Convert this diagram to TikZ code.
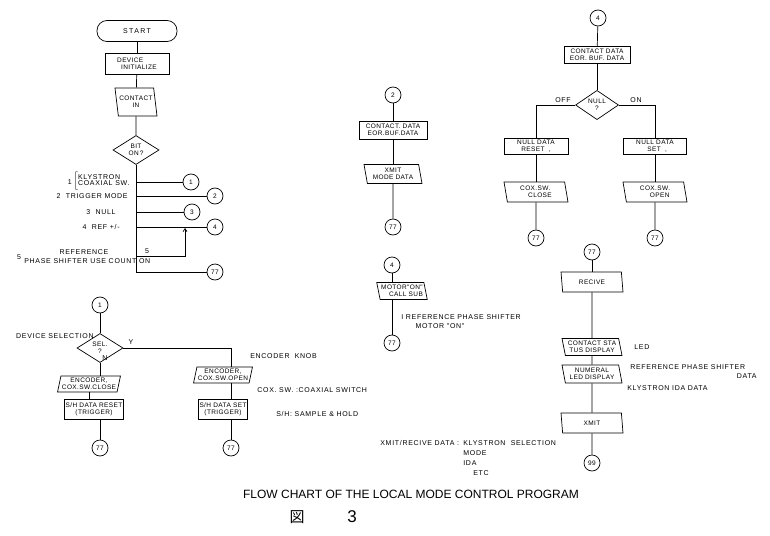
\documentclass[tikz,border=0pt]{standalone}
\usepackage{fontspec}
\setmainfont{Liberation Sans}
\newfontfamily\cjk{Noto Sans CJK JP}
\newfontfamily\lbfam{Liberation Sans}[LetterSpace=10]
\newfontfamily\bxfam{Liberation Sans}[LetterSpace=6]
\usetikzlibrary{arrows.meta,shapes.geometric}
\newcommand{\bxfont}{\bxfam\fontsize{6.5}{7}\selectfont}
\newcommand{\lbfont}{\lbfam\fontsize{7}{8}\selectfont}
\tikzset{
  fbox/.style={draw,rectangle,align=center,inner sep=1pt,font=\bxfont},
  fio/.style={draw,trapezium,trapezium left angle=104,trapezium right angle=76,
    trapezium stretches body,align=center,inner sep=1pt,font=\bxfont},
  fior/.style={fio,trapezium left angle=76,trapezium right angle=104},
  fdec/.style={draw,diamond,inner sep=0pt,align=center,font=\bxfont},
  fconn/.style={draw,circle,minimum size=16pt,inner sep=0pt,font=\bxfont},
  fterm/.style={draw,rounded corners=10pt,minimum width=80pt,minimum height=21pt,
    font=\lbfam\fontsize{7}{8}\selectfont},
  flabel/.style={inner sep=0pt,font=\lbfont},
  fflow/.style={line width=0.7pt},
  farrow/.style={fflow,-{Straight Barb[length=3pt,width=4pt]}},
}

\begin{document}
\begin{tikzpicture}[x=1pt,y=-1pt,fflow]
\useasboundingbox (0,0) rectangle (770,535);
% main program
\node[fterm] (start) at (137,31) {S\,T\,A\,R\,T};
\node[fbox,minimum width=64pt,minimum height=21pt,align=left] (init) at (137,64)
  {DEVICE\\\hspace{4pt}INITIALIZE};
\node[fio,minimum width=32pt,minimum height=28pt] (cin) at (136,102) {CONTACT\\IN};
\node[fdec,minimum width=46pt,minimum height=29pt] (bit) at (136,150) {BIT\\ON\,?};
\draw (start) -- (init);
\draw (init) -- (cin);
\draw (cin) -- (bit);
% branch trunk
\coordinate (r1) at (136,182);
\coordinate (r2) at (136,196);
\coordinate (r3) at (136,212);
\coordinate (r4) at (136,227);
\coordinate (r5) at (136,256);
\coordinate (r77) at (136,272);
\coordinate (j5) at (185,256);
\coordinate (j4) at (185,228);
\node[fconn] (c1) at (191,182) {1};
\node[fconn] (c2) at (215,196) {2};
\node[fconn] (c3) at (192,212) {3};
\node[fconn] (c4) at (215,227) {4};
\node[fconn] (c77a) at (215,272) {77};
\draw (bit.south) -- (r77);
\draw (r1) -- (c1);
\draw (r2) -- (c2);
\draw (r3) -- (c3);
\draw (r4) -- (c4);
\draw (r77) -- (c77a);
\draw[farrow] (r5) -- (j5) -- (j4);
\node[flabel,anchor=south] at (147,254) {5};
% branch texts
\node[flabel,anchor=east] at (72,182) {1};
\node[flabel,anchor=west] at (73,181)
  {$\left[\renewcommand{\arraystretch}{0.75}\begin{tabular}{@{}l@{}}KLYSTRON\\COAXIAL SW.\end{tabular}\right.$};
\node[flabel,anchor=east] at (128,196) {2\ \ TRIGGER MODE};
\node[flabel,anchor=east] at (116,212) {3\ \ NULL};
\node[flabel,anchor=east] at (120,227) {4\ \ REF +/-};
\node[flabel] at (84,252) {REFERENCE};
\node[flabel] at (19,257) {5};
\node[flabel,anchor=west] at (24,261) {PHASE SHIFTER USE COUNT ON};
% sub flow 1
\node[fconn] (c1s) at (100,305) {1};
\node[fdec,minimum width=46pt,minimum height=29pt] (sel) at (100,348) {SEL.\\?};
\node[fior,minimum width=52pt,minimum height=16pt] (encc) at (89,384)
  {ENCODER,\\COX.SW.CLOSE};
\node[fbox,minimum width=52pt,minimum height=20pt] (shr) at (94,409)
  {S/H DATA RESET\\(TRIGGER)};
\node[fconn] (c77g) at (100,448) {77};
\coordinate (ycol) at (231,348);
\node[fior,minimum width=46pt,minimum height=16pt] (enco) at (223,375)
  {ENCODER,\\COX.SW.OPEN};
\node[fbox,minimum width=48pt,minimum height=20pt] (shs) at (223,409)
  {S/H DATA SET\\(TRIGGER)};
\node[fconn] (c77h) at (231,448) {77};
\draw (c1s) -- (sel);
\draw (sel.south) -- (sel.south |- encc.north);
\draw (encc.south) -- (shr.north -| encc.south);
\draw (c77g |- shr.south) -- (c77g);
\draw (sel.east) -- (ycol) -- (ycol |- enco.north);
\draw (ycol |- enco.south) -- (ycol |- shs.north);
\draw (ycol |- shs.south) -- (c77h);
\node[flabel,anchor=east] at (94,336) {DEVICE SELECTION};
\node[flabel] at (131,342) {Y};
\node[flabel] at (105,358) {N};
\node[flabel,anchor=west] at (250,356) {ENCODER\ \ KNOB};
\node[flabel,anchor=west] at (257,390) {COX. SW. :COAXIAL SWITCH};
\node[flabel,anchor=west] at (276,414) {S/H: SAMPLE \& HOLD};
% sub flow 2
\node[fconn] (c2s) at (393,95) {2};
\node[fbox,minimum width=68pt,minimum height=18pt] (cdat2) at (393,130)
  {CONTACT. DATA\\EOR.BUF.DATA};
\node[fio,minimum width=58pt,minimum height=19pt] (xmit2) at (393,174)
  {XMIT\\MODE DATA};
\node[fconn] (c77b) at (393,227) {77};
\draw (c2s) -- (cdat2);
\draw (cdat2) -- (xmit2);
\draw (xmit2) -- (c77b);
% sub flow 4 (motor)
\node[fconn] (c4s) at (392,265) {4};
\node[fio,minimum width=46pt,minimum height=17pt] (motor) at (402,291)
  {MOTOR"ON"\\\hspace{8pt}CALL SUB};
\node[fconn] (c77c) at (392,343) {77};
\draw (c4s) -- (c4s |- motor.north);
\draw (c4s |- motor.south) -- (c77c);
\node[flabel,anchor=west] at (401,317) {I REFERENCE PHASE SHIFTER};
\node[flabel] at (440,326) {MOTOR "ON"};
% sub flow 4 (null)
\node[fconn] (c4r) at (598,18) {4};
\node[fbox,minimum width=66pt,minimum height=17pt] (cdat4) at (597,55)
  {CONTACT DATA\\EOR. BUF. DATA};
\node[fdec,minimum width=43pt,minimum height=29pt] (null) at (597,105) {NULL\\?};
\node[fbox,minimum width=64pt,minimum height=16pt] (nrst) at (536,146)
  {NULL DATA\\RESET\ \ ,};
\node[fbox,minimum width=63pt,minimum height=16pt] (nset) at (655,146)
  {NULL DATA\\\ \ SET\ \ ,};
\node[fio,minimum width=64pt,minimum height=20pt,align=left] (close) at (536,192)
  {COX.SW.\\\hspace{8pt}CLOSE};
\node[fio,minimum width=64pt,minimum height=20pt,align=left] (open) at (655,192)
  {COX.SW.\\\hspace{10pt}OPEN};
\node[fconn] (c77d) at (536,238) {77};
\node[fconn] (c77e) at (655,238) {77};
\draw (c4r) -- (cdat4);
\draw (cdat4) -- (null);
\draw (null.west) -| (nrst.north);
\draw (null.east) -| (nset.north);
\draw (nrst) -- (close);
\draw (close) -- (c77d);
\draw (nset) -- (open);
\draw (open) -- (c77e);
\node[flabel] at (563,100) {OFF};
\node[flabel] at (636,100) {ON};
% sub flow 77
\node[fconn] (c77f) at (592,252) {77};
\node[fio,minimum width=62pt,minimum height=20pt] (recv) at (592,282) {RECIVE};
\node[fio,minimum width=60pt,minimum height=17pt] (stat) at (592,347)
  {CONTACT STA\\TUS DISPLAY};
\node[fio,minimum width=60pt,minimum height=18pt] (numl) at (592,374)
  {NUMERAL\\LED DISPLAY};
\node[fio,minimum width=62pt,minimum height=20pt] (xmit) at (592,423) {XMIT};
\node[fconn] (c99) at (592,463) {99};
\draw (c77f) -- (recv);
\draw (recv) -- (stat);
\draw (stat) -- (numl);
\draw (numl) -- (xmit);
\draw (xmit) -- (c99);
\node[flabel,anchor=west] at (634,347) {LED};
\node[flabel,anchor=west] at (630,367) {REFERENCE PHASE SHIFTER};
\node[flabel,anchor=east] at (757,376) {DATA};
\node[flabel,anchor=west] at (627,388) {KLYSTRON IDA DATA};
% transfer data
\node[flabel,anchor=west] at (380,443) {XMIT/RECIVE DATA :};
\node[flabel,anchor=west] at (463,443) {KLYSTRON\ \ SELECTION};
\node[flabel,anchor=west] at (463,453) {MODE};
\node[flabel,anchor=west] at (463,463) {IDA};
\node[flabel,anchor=west] at (473,473) {ETC};
% caption
\node[font=\fontsize{12}{14}\selectfont] (title) at (411,494)
  {FLOW CHART OF THE LOCAL MODE CONTROL PROGRAM};
\node[font=\cjk\fontsize{15}{15}\selectfont] (figk) at (297,517) {図};
\node[font=\fontsize{17}{17}\selectfont] (fign) at (352,517) {3};
\end{tikzpicture}
\end{document}
